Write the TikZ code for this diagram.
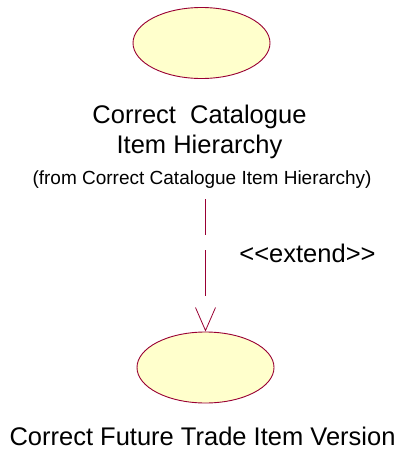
\documentclass[tikz,border=0pt]{standalone}
\usepackage{fontspec}
\setmainfont{Liberation Sans}
\usetikzlibrary{shapes.geometric, arrows.meta}
\definecolor{roseline}{RGB}{153,0,51}
\definecolor{rosefill}{RGB}{255,255,204}
\tikzset{
	usecase/.style={ellipse, draw=roseline, fill=rosefill, line width=0.9pt, minimum width=137pt, minimum height=71pt, inner sep=0pt},
	ucname/.style={font=\fontsize{25.5}{30}\selectfont, align=center, inner sep=0pt, anchor=base},
	ucfrom/.style={font=\fontsize{19}{21}\selectfont, inner sep=0pt, anchor=base},
	extendline/.style={color=roseline, line width=0.8pt, dash pattern=on 36pt off 15pt on 46pt off 60pt, -{Straight Barb[length=23pt,width=20pt]}}
}
\begin{document}
\begin{tikzpicture}[x=1pt,y=-1pt]
\useasboundingbox (0,0) rectangle (402,453);

\node[usecase] (hier) at (201.5,43) {};
\node[ucname] (hiername) at (199.5,153) {Correct\ \ Catalogue\\Item Hierarchy};
\node[ucfrom] (hierfrom) at (202,184) {(from Correct Catalogue Item Hierarchy)};

\node[usecase] (future) at (205.5,367.5) {};
\node[ucname] (futurename) at (202.5,445) {Correct Future Trade Item Version};

% extend relation
\draw[extendline, shorten <=11pt] (future.north |- hierfrom.south) -- (future.north);
\node[ucname] (extlabel) at (307.5,262) {<{}<extend>{}>};

\end{tikzpicture}
\end{document}
